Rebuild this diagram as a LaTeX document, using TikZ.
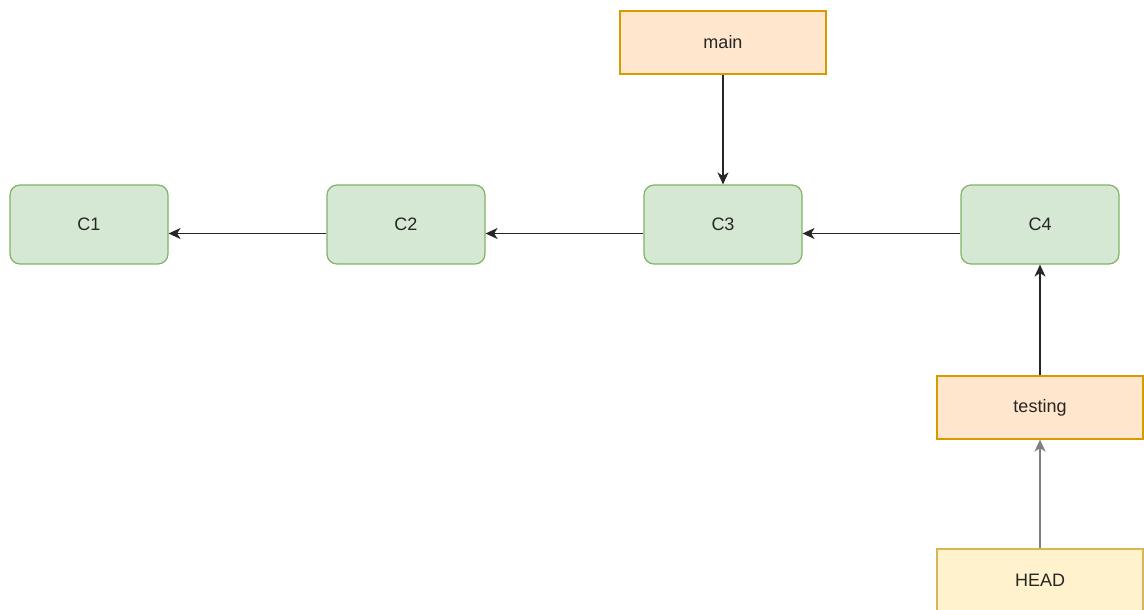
\documentclass[tikz,border=0pt]{standalone}
\usepackage{fontspec}
\setmainfont{Liberation Sans}
\usetikzlibrary{arrows.meta}
\definecolor{commitfill}{HTML}{D5E8D4}
\definecolor{commitline}{HTML}{82B366}
\definecolor{branchfill}{HTML}{FFE6CC}
\definecolor{branchline}{HTML}{D79B00}
\definecolor{headfill}{HTML}{FFF2CC}
\definecolor{headline}{HTML}{D6B656}
\definecolor{headarrow}{HTML}{808080}
\tikzset{
  label text/.style={font=\fontsize{18pt}{21pt}\selectfont, text=black!85},
  commit/.style={draw=commitline, fill=commitfill, rounded corners=10pt,
    minimum width=158pt, minimum height=79pt, line width=1.2pt,
    label text, inner sep=0pt},
  branch/.style={draw=branchline, fill=branchfill,
    minimum width=206pt, minimum height=63pt, line width=1.2pt,
    label text, inner sep=0pt},
  headbox/.style={draw=headline, fill=headfill,
    minimum width=206pt, minimum height=63pt, line width=1.2pt,
    label text, inner sep=0pt},
  tip/.style={-{Stealth[length=12pt,width=11pt,inset=3.5pt]}},
  link/.style={tip, line width=1.3pt, black!85},
  headlink/.style={tip, line width=2.4pt, headarrow},
}
\begin{document}
\begin{tikzpicture}[x=1pt, y=-1pt]
  \clip (0,0) rectangle (1144,610);
  \fill[white] (0,0) rectangle (1144,610);

  % commits
  \node[commit] (c1) at (89,224.5) {C1};
  \node[commit] (c2) at (406,224.5) {C2};
  \node[commit] (c3) at (723,224.5) {C3};
  \node[commit] (c4) at (1040,224.5) {C4};

  % branch pointers
  \node[branch] (main) at (723,42.5) {main};
  \node[branch] (testing) at (1040,407.5) {testing};
  \node[headbox] (head) at (1040,580.5) {HEAD};

  % parent links, a little below the commit centre line
  \draw[link] ([yshift=-9pt]c2.west) -- ([yshift=-9pt]c1.east);
  \draw[link] ([yshift=-9pt]c3.west) -- ([yshift=-9pt]c2.east);
  \draw[link] ([yshift=-9pt]c4.west) -- ([yshift=-9pt]c3.east);
  \draw[link] (main) -- (c3);
  \draw[link] (testing) -- (c4);
  \draw[headlink] (head) -- (testing);
\end{tikzpicture}
\end{document}
